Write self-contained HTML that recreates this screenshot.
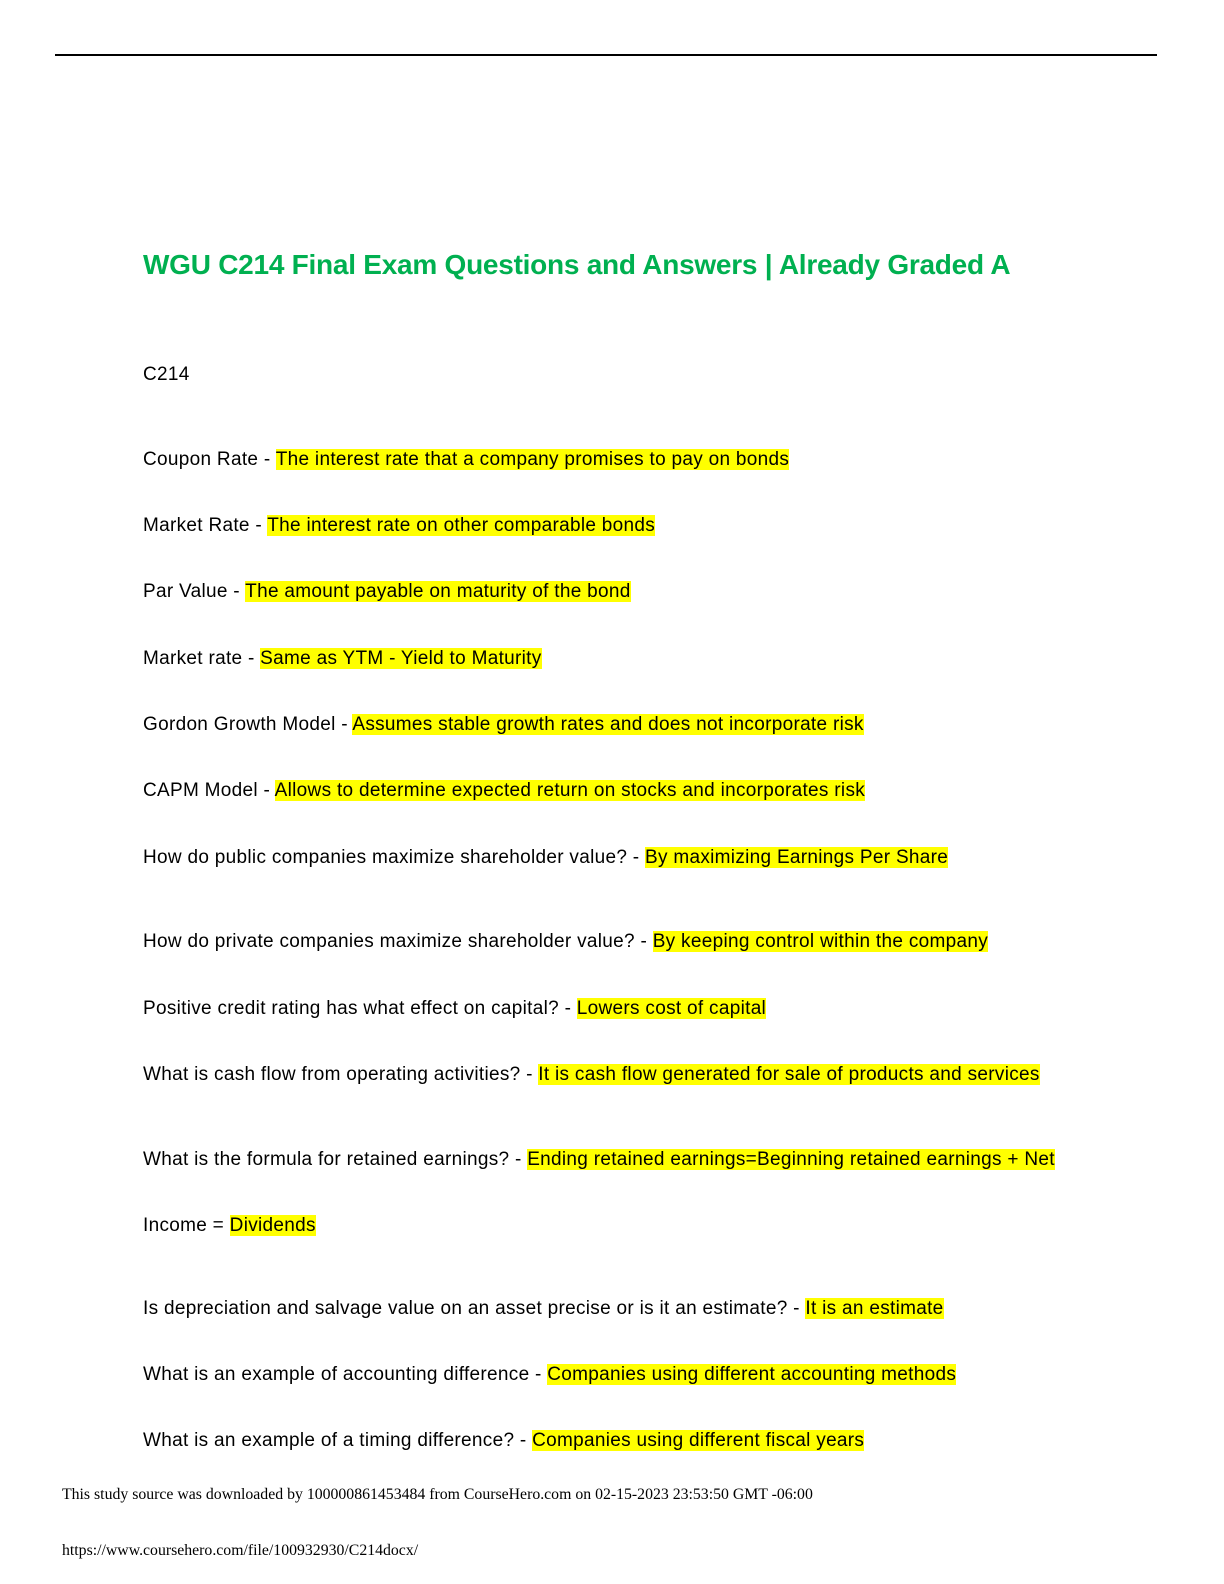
<!DOCTYPE html>
<html><head><meta charset="utf-8"><style>
body{margin:0;background:#fff;}
.pg{position:relative;width:1224px;height:1584px;overflow:hidden;font-family:"Liberation Sans",sans-serif;color:#000;}
.rule{position:absolute;left:55px;top:54px;width:1102px;height:2px;background:#000;}
.t{position:absolute;left:143px;top:249px;font-size:28px;font-weight:bold;color:#00B050;white-space:nowrap;letter-spacing:-0.25px;}
.l{position:absolute;left:143px;font-size:19px;line-height:28px;white-space:nowrap;letter-spacing:0.3px;}
.h{background:#ffff00;}
.f{position:absolute;left:62px;font-family:"Liberation Serif",serif;font-size:15.8px;white-space:nowrap;}
</style></head><body><div class="pg">
<div class="rule"></div>
<div class="t">WGU C214 Final Exam Questions and Answers | Already Graded A</div>
<div class="l" style="top:361px">C214</div>
<div class="l" style="top:446px">Coupon Rate - <span class="h">The interest rate that a company promises to pay on bonds</span></div>
<div class="l" style="top:512px">Market Rate - <span class="h">The interest rate on other comparable bonds</span></div>
<div class="l" style="top:578px">Par Value - <span class="h">The amount payable on maturity of the bond</span></div>
<div class="l" style="top:645px">Market rate - <span class="h">Same as YTM - Yield to Maturity</span></div>
<div class="l" style="top:711px">Gordon Growth Model - <span class="h">Assumes stable growth rates and does not incorporate risk</span></div>
<div class="l" style="top:777px">CAPM Model - <span class="h">Allows to determine expected return on stocks and incorporates risk</span></div>
<div class="l" style="top:844px">How do public companies maximize shareholder value? - <span class="h">By maximizing Earnings Per Share</span></div>
<div class="l" style="top:928px">How do private companies maximize shareholder value? - <span class="h">By keeping control within the company</span></div>
<div class="l" style="top:995px">Positive credit rating has what effect on capital? - <span class="h">Lowers cost of capital</span></div>
<div class="l" style="top:1061px">What is cash flow from operating activities? - <span class="h">It is cash flow generated for sale of products and services</span></div>
<div class="l" style="top:1146px">What is the formula for retained earnings? - <span class="h">Ending retained earnings=Beginning retained earnings + Net</span></div>
<div class="l" style="top:1212px">Income = <span class="h">Dividends</span></div>
<div class="l" style="top:1295px">Is depreciation and salvage value on an asset precise or is it an estimate? - <span class="h">It is an estimate</span></div>
<div class="l" style="top:1361px">What is an example of accounting difference - <span class="h">Companies using different accounting methods</span></div>
<div class="l" style="top:1427px">What is an example of a timing difference? - <span class="h">Companies using different fiscal years</span></div>
<div class="f" style="top:1486px">This study source was downloaded by 100000861453484 from CourseHero.com on 02-15-2023 23:53:50 GMT -06:00</div>
<div class="f" style="top:1542px">https://www.coursehero.com/file/100932930/C214docx/</div>
</div></body></html>
